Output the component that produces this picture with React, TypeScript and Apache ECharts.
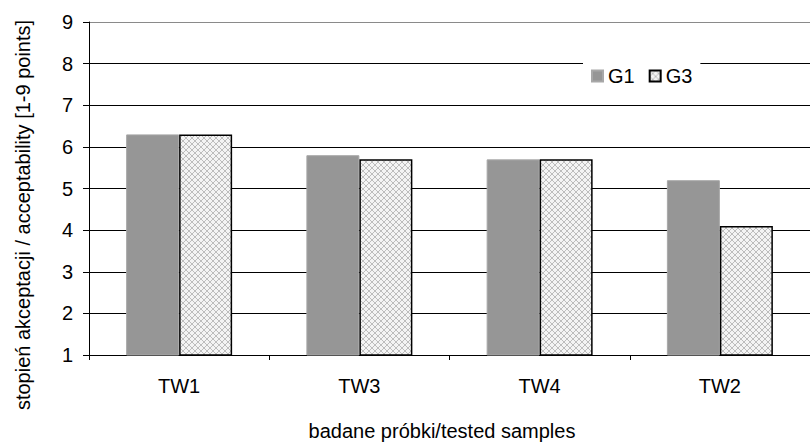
import React, { useEffect, useRef } from "react";
import * as echarts from "echarts";

const categories = ["TW1", "TW3", "TW4", "TW2"];
const g1Values = [6.3, 5.8, 5.7, 5.2];
const g3Values = [6.3, 5.7, 5.7, 4.1];
const seriesNames = ["G1", "G3"];
const yAxisTitle = "stopień akceptacji / acceptability [1-9 points]";
const xAxisTitle = "badane próbki/tested samples";

const FONT = "'Liberation Sans', Arial, sans-serif";

function makePattern(): HTMLCanvasElement {
  const c = document.createElement("canvas");
  c.width = 6;
  c.height = 6;
  const ctx = c.getContext("2d")!;
  ctx.fillStyle = "#f4f4f4";
  ctx.fillRect(0, 0, 6, 6);
  ctx.strokeStyle = "#bdbdbd";
  ctx.lineWidth = 1;
  ctx.beginPath();
  ctx.moveTo(0, 0);
  ctx.lineTo(6, 6);
  ctx.moveTo(6, 0);
  ctx.lineTo(0, 6);
  ctx.stroke();
  return c;
}

export default function App() {
  const ref = useRef<HTMLDivElement>(null);
  useEffect(() => {
    if (!ref.current) return;
    const chart = echarts.init(ref.current, undefined, { renderer: "svg" });
    const pattern = makePattern();
    chart.setOption({
      animation: false,
      backgroundColor: "#ffffff",
      textStyle: { fontFamily: FONT },
      grid: { left: 89, right: -11, top: 22, bottom: 91, containLabel: false },
      legend: {
        data: seriesNames,
        left: 583,
        top: 58,
        orient: "horizontal",
        backgroundColor: "#ffffff",
        padding: [8, 8, 8, 8],
        itemWidth: 11,
        itemHeight: 11,
        itemGap: 14,
        icon: "rect",
        textStyle: { fontSize: 20, color: "#000", fontFamily: FONT },
      },
      xAxis: {
        type: "category",
        data: categories,
        boundaryGap: true,
        axisLine: { show: true, lineStyle: { color: "#000", width: 1 } },
        axisTick: { show: true, length: 5, lineStyle: { color: "#000" } },
        axisLabel: { fontSize: 20, color: "#000", margin: 21, fontFamily: FONT },
        splitLine: { show: false },
      },
      yAxis: {
        type: "value",
        min: 1,
        max: 9,
        interval: 1,
        axisLine: { show: true, lineStyle: { color: "#000", width: 1 } },
        axisTick: { show: true, length: 6, lineStyle: { color: "#000" } },
        axisLabel: { fontSize: 20, color: "#000", margin: 16, fontFamily: FONT },
        splitLine: {
          show: true,
          lineStyle: {
            color: ["#000", "#000", "#000", "#000", "#000", "#000", "#000", "#000", "#8a8a8a"],
            width: 1,
          },
        },
      },
      series: [
        {
          name: seriesNames[0],
          type: "bar",
          data: g1Values,
          barWidth: 53,
          barGap: "0%",
          itemStyle: { color: "#969696", borderColor: "#a8a8a8", borderWidth: 1 },
        },
        {
          name: seriesNames[1],
          type: "bar",
          data: g3Values,
          barWidth: 53,
          barGap: "0%",
          itemStyle: {
            color: { image: pattern, repeat: "repeat" },
            borderColor: "#000",
            borderWidth: 1.5,
          },
        },
      ],
      graphic: [
        {
          type: "text",
          x: 23,
          y: 215,
          rotation: Math.PI / 2,
          style: {
            text: yAxisTitle,
            fontSize: 20,
            fontFamily: FONT,
            fill: "#000",
            align: "center",
            verticalAlign: "middle",
          },
        },
        {
          type: "text",
          x: 442,
          y: 431,
          style: {
            text: xAxisTitle,
            fontSize: 20,
            fontFamily: FONT,
            fill: "#000",
            align: "center",
            verticalAlign: "middle",
          },
        },
      ],
    });
    return () => chart.dispose();
  }, []);
  return <div ref={ref} style={{ width: 810, height: 446, position: "absolute", left: 0, top: 0 }} />;
}
